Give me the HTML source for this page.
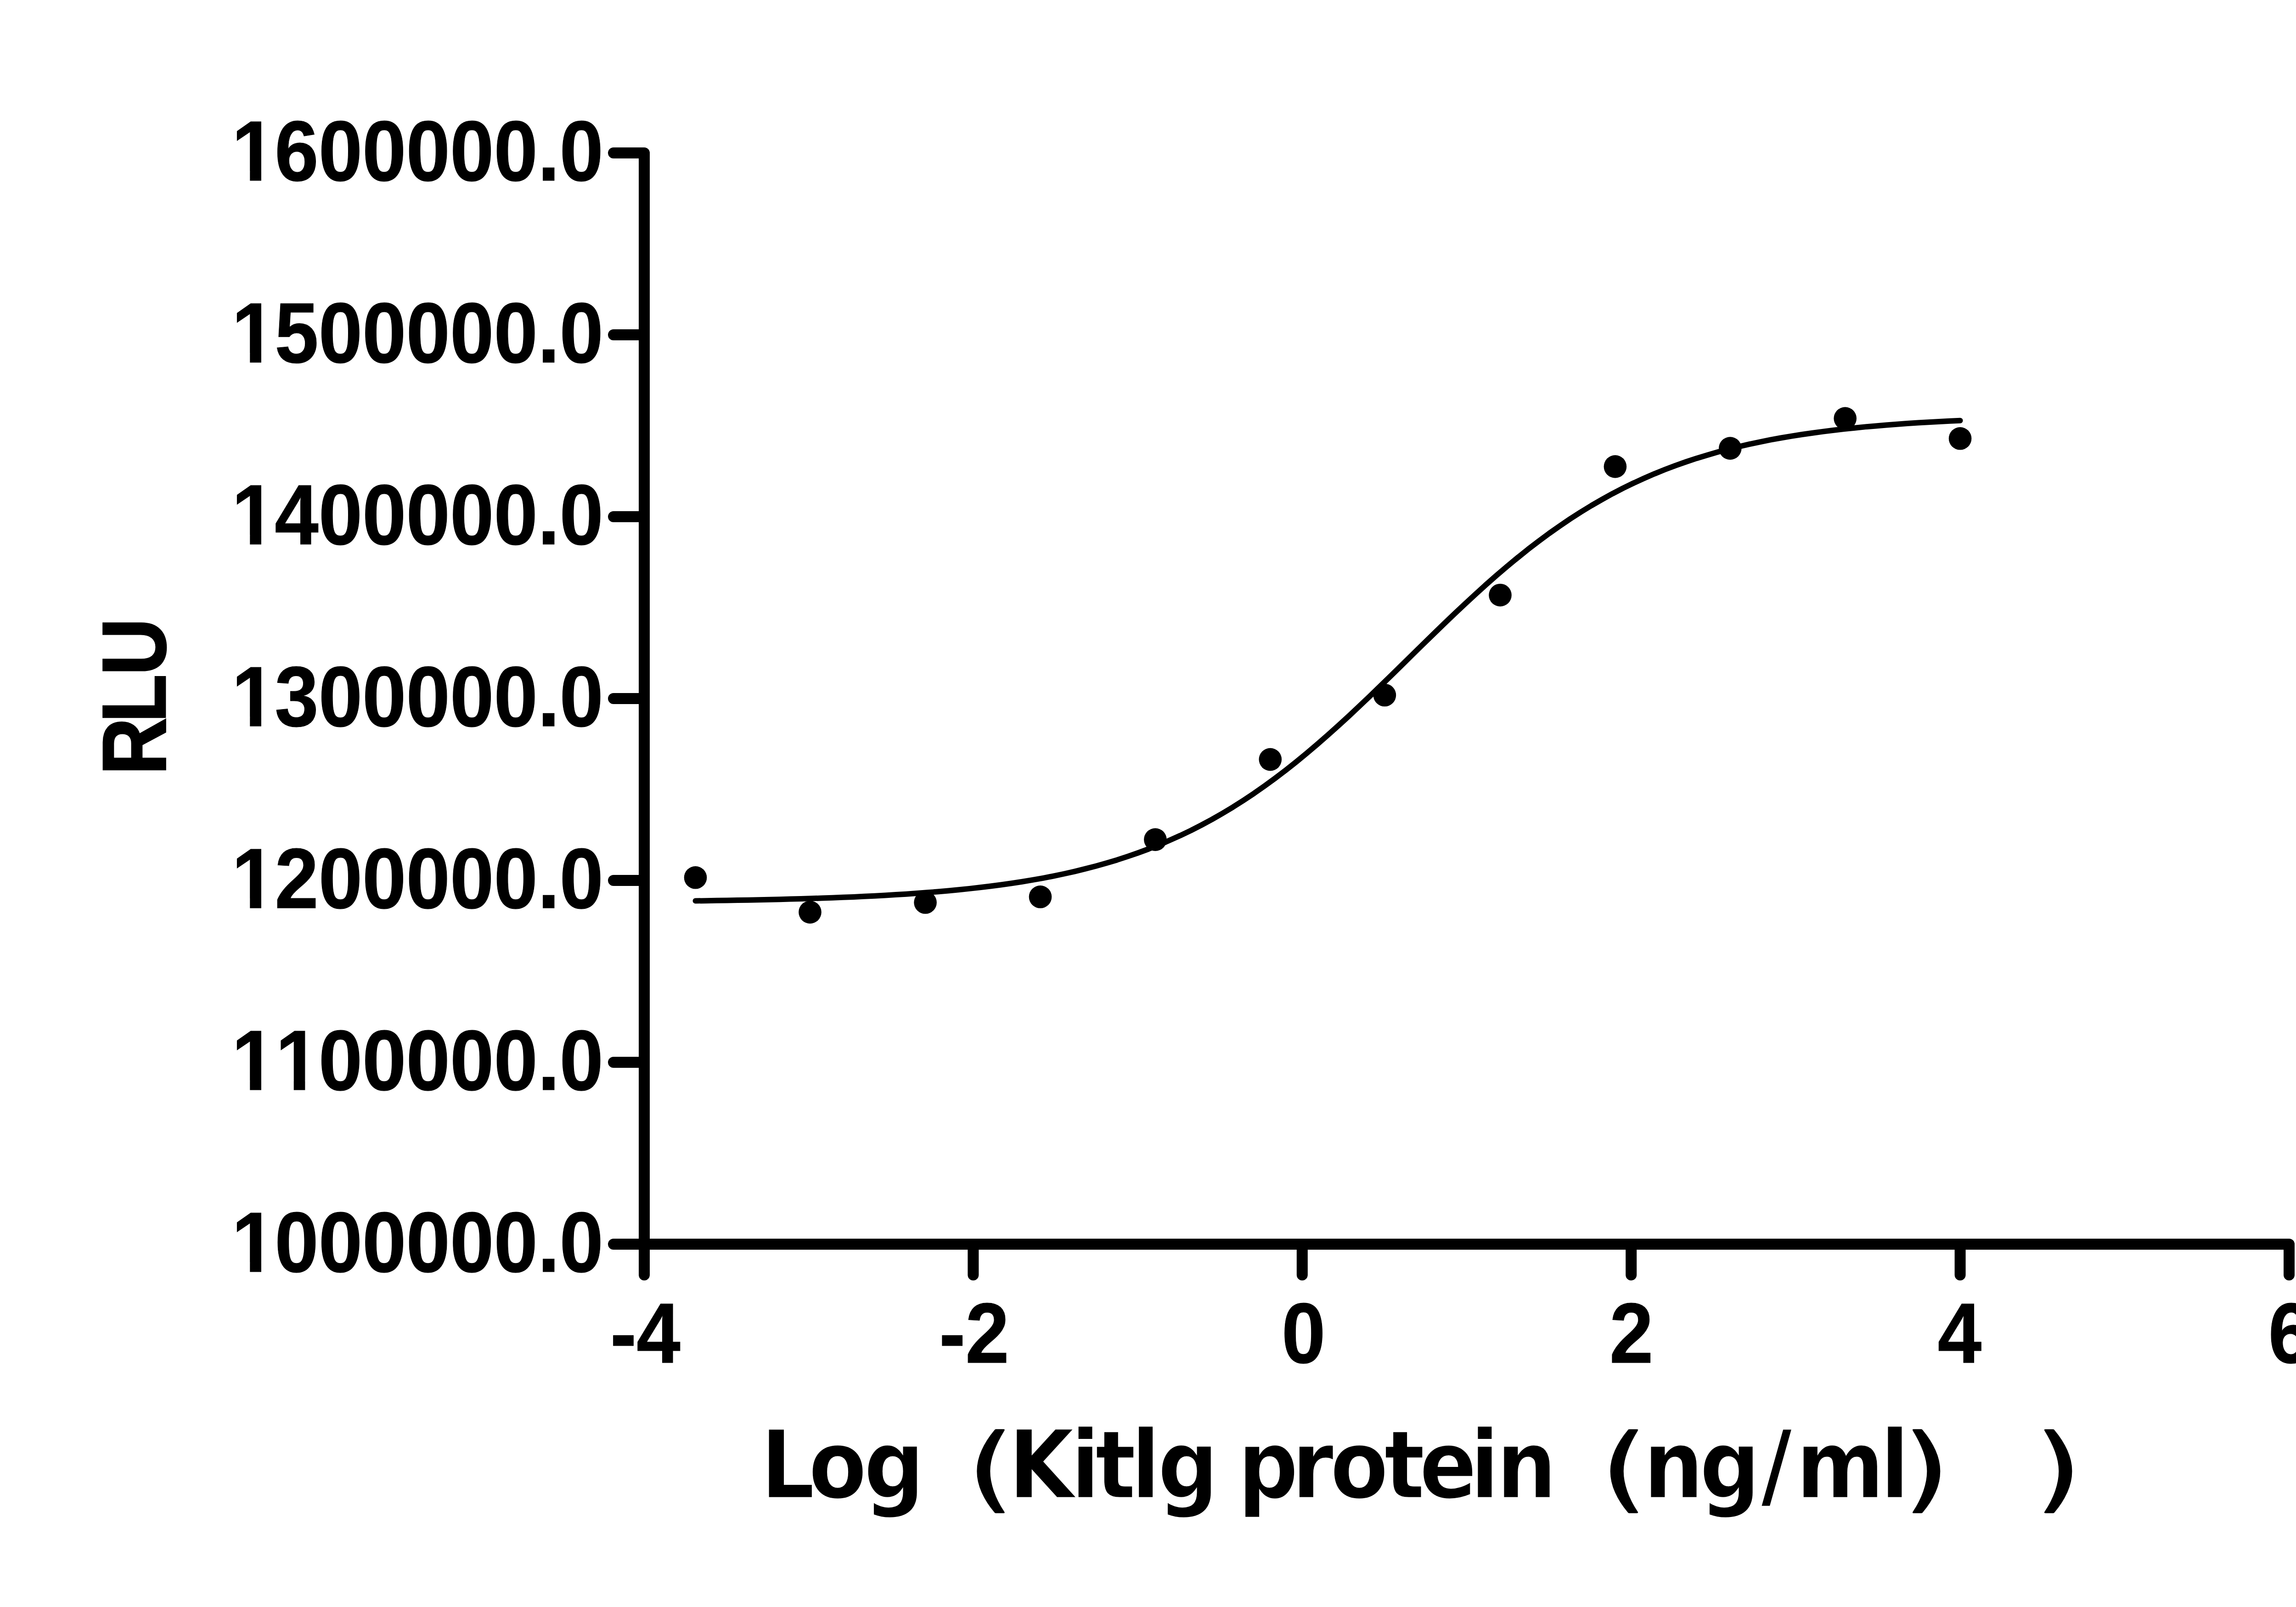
<!DOCTYPE html>
<html><head><meta charset="utf-8"><title>RLU vs Log (Kitlg protein (ng/ml))</title>
<style>html,body{margin:0;padding:0;background:#fff;width:5534px;height:3499px;overflow:hidden}svg{display:block}</style>
</head><body>
<svg width="5534" height="3499" viewBox="0 0 5534 3499">
<rect width="5534" height="3499" fill="#fff"/>
<path d="M1336.0,333.0 L1403.0,333.0 L1403.0,2776.0 M1403.0,2709.0 L4985.0,2709.0 L4985.0,2776.0 M1336.0,2709.0 L1403.0,2709.0 M1336.0,2313.0 L1403.0,2313.0 M1336.0,1917.0 L1403.0,1917.0 M1336.0,1521.0 L1403.0,1521.0 M1336.0,1125.0 L1403.0,1125.0 M1336.0,729.0 L1403.0,729.0 M1336.0,2709.0 L1403.0,2709.0 M2119.4,2709.0 L2119.4,2776.0 M2835.8,2709.0 L2835.8,2776.0 M3552.2,2709.0 L3552.2,2776.0 M4268.6,2709.0 L4268.6,2776.0" fill="none" stroke="#000" stroke-width="24" stroke-linecap="round" stroke-linejoin="round"/>
<polyline points="1514.5,1961.5 1537.5,1961.2 1560.4,1960.8 1583.4,1960.5 1606.3,1960.1 1629.3,1959.7 1652.2,1959.2 1675.2,1958.7 1698.1,1958.2 1721.1,1957.6 1744.0,1957.0 1767.0,1956.3 1789.9,1955.5 1812.9,1954.7 1835.8,1953.8 1858.8,1952.9 1881.7,1951.8 1904.7,1950.7 1927.6,1949.5 1950.6,1948.1 1973.5,1946.7 1996.5,1945.1 2019.4,1943.3 2042.4,1941.5 2065.3,1939.5 2088.3,1937.3 2111.2,1934.9 2134.2,1932.3 2157.1,1929.5 2180.1,1926.5 2203.0,1923.2 2226.0,1919.7 2248.9,1915.9 2271.9,1911.8 2294.8,1907.3 2317.8,1902.5 2340.7,1897.3 2363.7,1891.7 2386.6,1885.7 2409.6,1879.3 2432.5,1872.4 2455.5,1864.9 2478.4,1857.0 2501.4,1848.5 2524.3,1839.4 2547.3,1829.6 2570.2,1819.3 2593.2,1808.3 2616.1,1796.6 2639.1,1784.2 2662.0,1771.1 2685.0,1757.3 2707.9,1742.7 2730.9,1727.4 2753.8,1711.4 2776.8,1694.6 2799.7,1677.2 2822.7,1659.0 2845.6,1640.2 2868.6,1620.7 2891.6,1600.6 2914.5,1580.0 2937.5,1559.0 2960.4,1537.4 2983.4,1515.6 3006.3,1493.4 3029.3,1471.1 3052.2,1448.6 3075.2,1426.0 3098.1,1403.5 3121.1,1381.1 3144.0,1358.9 3167.0,1336.9 3189.9,1315.3 3212.9,1294.1 3235.8,1273.3 3258.8,1253.1 3281.7,1233.5 3304.7,1214.5 3327.6,1196.1 3350.6,1178.5 3373.5,1161.5 3396.5,1145.3 3419.4,1129.8 3442.4,1115.0 3465.3,1101.0 3488.3,1087.7 3511.2,1075.1 3534.2,1063.2 3557.1,1052.0 3580.1,1041.5 3603.0,1031.6 3626.0,1022.3 3648.9,1013.6 3671.9,1005.5 3694.8,997.9 3717.8,990.9 3740.7,984.3 3763.7,978.2 3786.6,972.5 3809.6,967.2 3832.5,962.3 3855.5,957.7 3878.4,953.5 3901.4,949.6 3924.3,946.0 3947.3,942.7 3970.2,939.6 3993.2,936.7 4016.1,934.1 4039.1,931.7 4062.0,929.4 4085.0,927.4 4107.9,925.4 4130.9,923.7 4153.8,922.1 4176.8,920.6 4199.7,919.2 4222.7,917.9 4245.6,916.8 4268.6,915.7" fill="none" stroke="#000" stroke-width="12" stroke-linecap="round" stroke-linejoin="round"/>
<g fill="#000"><circle cx="1514.5" cy="1910.8" r="24.8"/><circle cx="1764.0" cy="1986.1" r="24.8"/><circle cx="2015.1" cy="1965.0" r="24.8"/><circle cx="2265.5" cy="1952.8" r="24.8"/><circle cx="2515.9" cy="1828.1" r="24.8"/><circle cx="2766.3" cy="1653.6" r="24.8"/><circle cx="3015.4" cy="1513.5" r="24.8"/><circle cx="3267.0" cy="1295.7" r="24.8"/><circle cx="3517.4" cy="1015.9" r="24.8"/><circle cx="3767.8" cy="976.1" r="24.8"/><circle cx="4018.2" cy="911.1" r="24.8"/><circle cx="4268.6" cy="954.8" r="24.8"/></g>
<g fill="#000" font-family="'Liberation Sans', Arial, Helvetica, sans-serif" font-weight="bold" style="font-kerning:none;font-variant-ligatures:none">
<g stroke="#000" stroke-width="1.2">
<text transform="translate(502.77 2769.00) scale(0.9227 1)" x="2.17 103.44 206.89 310.33 413.78 517.22 620.67 724.11 775.79" font-size="186.00">1000000.0</text>
<text transform="translate(502.77 2373.00) scale(0.9227 1)" x="2.17 105.61 206.89 310.33 413.78 517.22 620.67 724.11 775.79" font-size="186.00">1100000.0</text>
<text transform="translate(502.77 1977.00) scale(0.9227 1)" x="2.17 103.44 206.89 310.33 413.78 517.22 620.67 724.11 775.79" font-size="186.00">1200000.0</text>
<text transform="translate(502.77 1581.00) scale(0.9227 1)" x="2.17 103.44 206.89 310.33 413.78 517.22 620.67 724.11 775.79" font-size="186.00">1300000.0</text>
<text transform="translate(502.77 1185.00) scale(0.9227 1)" x="2.17 103.44 206.89 310.33 413.78 517.22 620.67 724.11 775.79" font-size="186.00">1400000.0</text>
<text transform="translate(502.77 789.00) scale(0.9227 1)" x="2.17 103.44 206.89 310.33 413.78 517.22 620.67 724.11 775.79" font-size="186.00">1500000.0</text>
<text transform="translate(502.77 393.00) scale(0.9227 1)" x="2.17 103.44 206.89 310.33 413.78 517.22 620.67 724.11 775.79" font-size="186.00">1600000.0</text>
<text transform="translate(1329.01 2967.40) scale(0.9227 1)" font-size="186.00">-4</text>
<text transform="translate(2045.18 2967.40) scale(0.9227 1)" font-size="186.00">-2</text>
<text transform="translate(2790.90 2967.40) scale(0.9227 1)" font-size="186.00">0</text>
<text transform="translate(3504.94 2967.40) scale(0.9227 1)" font-size="186.00">2</text>
<text transform="translate(4219.74 2967.40) scale(0.9227 1)" font-size="186.00">4</text>
<text transform="translate(4939.73 2967.40) scale(0.9227 1)" font-size="186.00">6</text>
</g>
<g fill="#fff"><rect x="514.08" y="2748.82" width="30.19" height="21.68"/><rect x="568.93" y="2748.82" width="28.01" height="21.68"/><rect x="514.08" y="2352.82" width="30.19" height="21.68"/><rect x="568.93" y="2352.82" width="28.01" height="21.68"/><rect x="609.53" y="2352.82" width="30.19" height="21.68"/><rect x="664.38" y="2352.82" width="28.01" height="21.68"/><rect x="514.08" y="1956.82" width="30.19" height="21.68"/><rect x="568.93" y="1956.82" width="28.01" height="21.68"/><rect x="514.08" y="1560.82" width="30.19" height="21.68"/><rect x="568.93" y="1560.82" width="28.01" height="21.68"/><rect x="514.08" y="1164.82" width="30.19" height="21.68"/><rect x="568.93" y="1164.82" width="28.01" height="21.68"/><rect x="514.08" y="768.82" width="30.19" height="21.68"/><rect x="568.93" y="768.82" width="28.01" height="21.68"/><rect x="514.08" y="372.82" width="30.19" height="21.68"/><rect x="568.93" y="372.82" width="28.01" height="21.68"/></g>
<g stroke="#000" stroke-width="2.7"><text transform="translate(359.80 1690.00) rotate(-90) scale(0.8819 1)" x="2.98 132.14 248.69" font-size="196.00">RLU</text></g>
<g stroke="#fff" stroke-width="2.5">
<text transform="translate(0.00 3261.10) scale(0.9000 1)" x="1840.47 1956.41 2090.35" font-family="'DejaVu Sans', 'Liberation Sans', sans-serif" font-size="205.00">Log</text>
<text transform="translate(0.00 3261.10) scale(0.9000 1)" x="2440.39 2591.09 2650.34 2737.25 2801.41 2948.15 2995.12 3125.75 3218.69 3349.39 3434.37 3557.64 3620.71" font-family="'DejaVu Sans', 'Liberation Sans', sans-serif" font-size="205.00">Kitlg protein</text>
<text transform="translate(0.00 3261.10) scale(0.9000 1)" x="3976.48 4112.58 4261.06 4345.80 4549.64" font-family="'DejaVu Sans', 'Liberation Sans', sans-serif" font-size="205.00">ng/ml</text>
</g>
<text transform="translate(2002.52 3269.53) scale(1.1257 1)" font-family="'NanumGothic', 'IPAGothic', 'Noto Sans CJK JP', sans-serif" font-weight="800" font-size="186.94">（</text>
<text transform="translate(3381.71 3269.53) scale(1.1275 1)" font-family="'NanumGothic', 'IPAGothic', 'Noto Sans CJK JP', sans-serif" font-weight="800" font-size="186.94">（</text>
<text transform="translate(4150.62 3269.53) scale(1.1238 1)" font-family="'NanumGothic', 'IPAGothic', 'Noto Sans CJK JP', sans-serif" font-weight="800" font-size="186.94">）</text>
<text transform="translate(4437.25 3269.53) scale(1.1294 1)" font-family="'NanumGothic', 'IPAGothic', 'Noto Sans CJK JP', sans-serif" font-weight="800" font-size="186.94">）</text>
</g>
</svg>
</body></html>
